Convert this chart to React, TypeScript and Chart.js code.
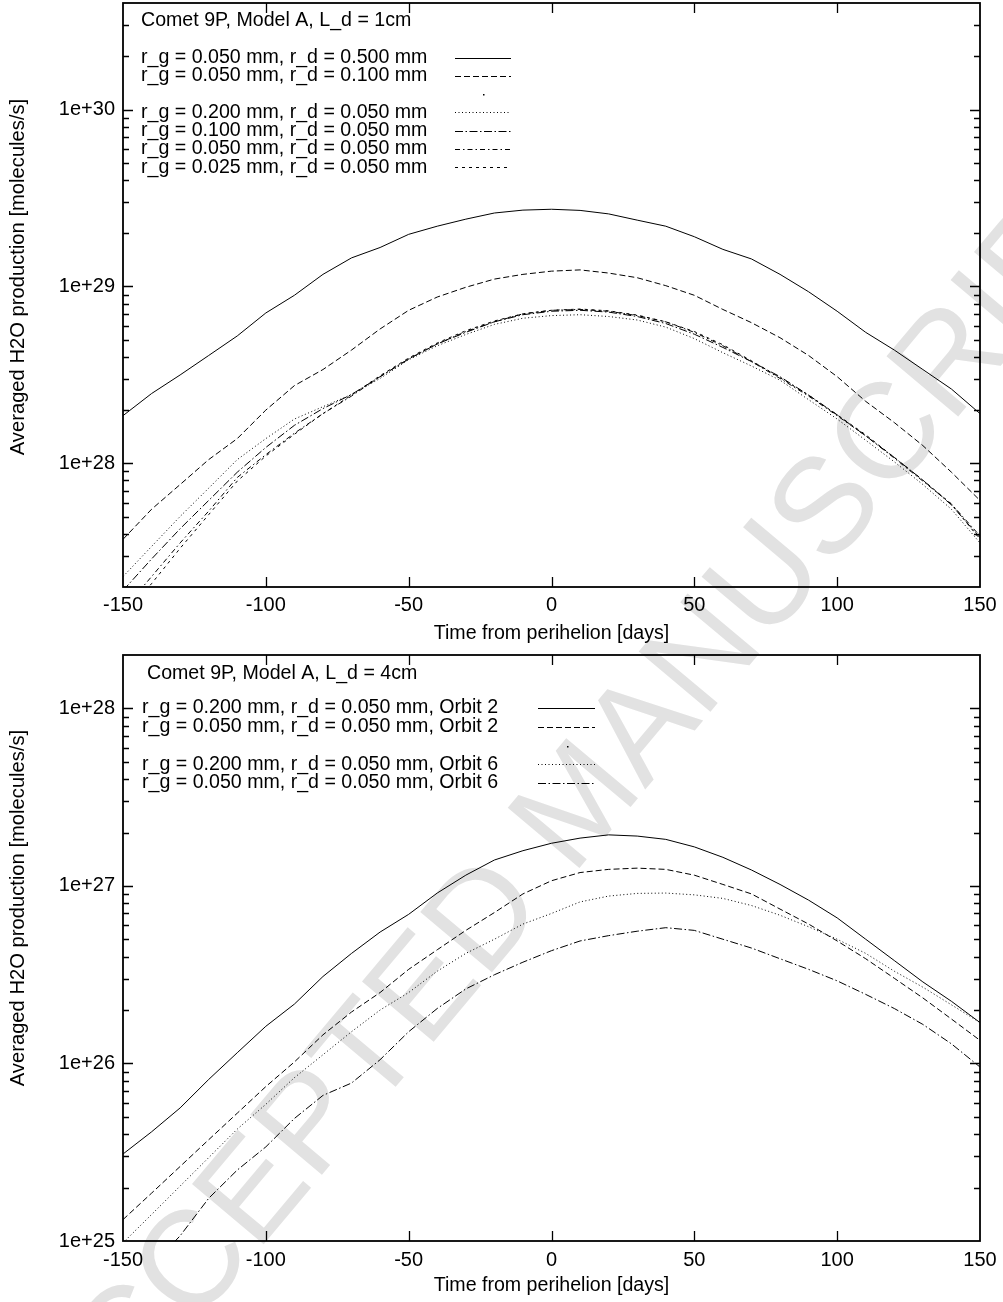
import React, { useEffect, useRef } from 'react';
import { Chart, registerables } from 'chart.js';

Chart.register(...registerables);

const FONT = '"Liberation Sans", Arial, Helvetica, sans-serif';

// ---------- shared axis data ----------
const DAYS = [-150, -140, -130, -120, -110, -100, -90, -80, -70, -60, -50, -40, -30, -20, -10, 0,
  10, 20, 30, 40, 50, 60, 70, 80, 90, 100, 110, 120, 130, 140, 150];
const X_TICKS = [-150, -100, -50, 0, 50, 100, 150];
const X_TICK_LABELS = ['-150', '-100', '-50', '0', '50', '100', '150'];
const X_TITLE = 'Time from perihelion [days]';
const Y_TITLE = 'Averaged H2O production [molecules/s]';
const MINOR_STEPS = [2, 3, 4, 5, 6, 7, 8, 9];

// ---------- top panel ----------
const TOP_TITLE = 'Comet 9P, Model A, L_d = 1cm';
const TOP_Y_MIN = 2e27;
const TOP_Y_MAX = 4e30;
const TOP_Y_MAJOR = [1e28, 1e29, 1e30];
const TOP_Y_LABELS = ['1e+28', '1e+29', '1e+30'];
const TOP_LABELS = [
  'r_g = 0.050 mm, r_d = 0.500 mm',
  'r_g = 0.050 mm, r_d = 0.100 mm',
  '',
  'r_g = 0.200 mm, r_d = 0.050 mm',
  'r_g = 0.100 mm, r_d = 0.050 mm',
  'r_g = 0.050 mm, r_d = 0.050 mm',
  'r_g = 0.025 mm, r_d = 0.050 mm',
];
const TOP_RG050_RD500 = [1.86e28, 2.48e28, 3.16e28, 4.07e28, 5.25e28, 7.08e28, 8.91e28, 1.17e29, 1.45e29, 1.66e29,
  1.97e29, 2.19e29, 2.40e29, 2.60e29, 2.70e29, 2.73e29, 2.69e29, 2.57e29, 2.37e29, 2.19e29, 1.91e29, 1.62e29,
  1.43e29, 1.17e29, 9.33e28, 7.24e28, 5.50e28, 4.37e28, 3.39e28, 2.63e28, 1.91e28];
const TOP_RG050_RD100 = [3.72e27, 5.50e27, 7.59e27, 1.05e28, 1.38e28, 2.00e28, 2.75e28, 3.39e28, 4.37e28, 5.75e28,
  7.33e28, 8.71e28, 9.89e28, 1.10e29, 1.17e29, 1.22e29, 1.24e29, 1.19e29, 1.12e29, 1.01e29, 8.91e28, 7.41e28,
  6.24e28, 5.13e28, 4.07e28, 3.09e28, 2.24e28, 1.70e28, 1.26e28, 8.91e27, 6.17e27];
const TOP_RG200_RD050 = [2.29e27, 3.39e27, 5.01e27, 7.24e27, 1.05e28, 1.38e28, 1.78e28, 2.09e28, 2.45e28, 3.02e28,
  3.85e28, 4.62e28, 5.35e28, 6.10e28, 6.61e28, 6.84e28, 6.92e28, 6.76e28, 6.46e28, 5.89e28, 5.07e28, 4.22e28,
  3.55e28, 2.95e28, 2.29e28, 1.78e28, 1.35e28, 1.02e28, 7.59e27, 5.50e27, 3.55e27];
const TOP_RG100_RD050 = [1.91e27, 2.88e27, 4.27e27, 6.17e27, 8.91e27, 1.23e28, 1.64e28, 2.04e28, 2.45e28, 3.09e28,
  3.89e28, 4.73e28, 5.50e28, 6.31e28, 6.92e28, 7.24e28, 7.33e28, 7.16e28, 6.76e28, 6.17e28, 5.37e28, 4.52e28,
  3.76e28, 3.09e28, 2.43e28, 1.88e28, 1.43e28, 1.08e28, 8.04e27, 5.82e27, 3.80e27];
const TOP_RG050_RD050 = [1.48e27, 2.29e27, 3.55e27, 5.37e27, 8.32e27, 1.12e28, 1.48e28, 1.91e28, 2.40e28, 3.09e28,
  3.89e28, 4.73e28, 5.56e28, 6.31e28, 7.00e28, 7.33e28, 7.41e28, 7.24e28, 6.84e28, 6.31e28, 5.50e28, 4.62e28,
  3.76e28, 3.02e28, 2.40e28, 1.86e28, 1.43e28, 1.07e28, 7.94e27, 5.89e27, 3.89e27];
const TOP_RG025_RD050 = [1.35e27, 2.09e27, 3.31e27, 5.13e27, 7.94e27, 1.10e28, 1.46e28, 1.91e28, 2.43e28, 3.13e28,
  3.94e28, 4.79e28, 5.62e28, 6.38e28, 7.00e28, 7.33e28, 7.45e28, 7.28e28, 6.89e28, 6.31e28, 5.56e28, 4.68e28,
  3.80e28, 3.05e28, 2.43e28, 1.88e28, 1.45e28, 1.08e28, 8.04e27, 5.89e27, 3.72e27];

// ---------- bottom panel ----------
const BOT_TITLE = 'Comet 9P, Model A, L_d = 4cm';
const BOT_Y_MIN = 1e25;
const BOT_Y_MAX = 2e28;
const BOT_Y_MAJOR = [1e25, 1e26, 1e27, 1e28];
const BOT_Y_LABELS = ['1e+25', '1e+26', '1e+27', '1e+28'];
const BOT_LABELS = [
  'r_g = 0.200 mm, r_d = 0.050 mm, Orbit 2',
  'r_g = 0.050 mm, r_d = 0.050 mm, Orbit 2',
  '',
  'r_g = 0.200 mm, r_d = 0.050 mm, Orbit 6',
  'r_g = 0.050 mm, r_d = 0.050 mm, Orbit 6',
];
const BOT_RG200_O2 = [3.09e25, 4.12e25, 5.62e25, 8.13e25, 1.15e26, 1.62e26, 2.16e26, 3.09e26, 4.17e26, 5.50e26,
  6.92e26, 9.12e26, 1.15e27, 1.40e27, 1.58e27, 1.74e27, 1.86e27, 1.94e27, 1.91e27, 1.83e27, 1.66e27, 1.45e27,
  1.23e27, 1.02e27, 8.32e26, 6.61e26, 5.01e26, 3.80e26, 2.88e26, 2.24e26, 1.70e26];
const BOT_RG050_O2 = [1.32e25, 1.86e25, 2.63e25, 3.72e25, 5.25e25, 7.41e25, 1.02e26, 1.45e26, 1.95e26, 2.51e26,
  3.39e26, 4.37e26, 5.62e26, 7.08e26, 9.02e26, 1.07e27, 1.19e27, 1.24e27, 1.26e27, 1.24e27, 1.15e27, 1.02e27,
  9.02e26, 7.41e26, 6.10e26, 4.90e26, 3.89e26, 3.02e26, 2.34e26, 1.78e26, 1.35e26];
const BOT_RG200_O6 = [9.77e24, 1.41e25, 2.04e25, 2.95e25, 4.27e25, 5.89e25, 8.32e25, 1.12e26, 1.51e26, 2.00e26,
  2.51e26, 3.31e26, 4.17e26, 5.01e26, 6.10e26, 7.00e26, 8.13e26, 8.77e26, 9.08e26, 9.12e26, 8.91e26, 8.51e26,
  7.76e26, 6.84e26, 5.89e26, 5.01e26, 4.17e26, 3.31e26, 2.69e26, 2.14e26, 1.70e26];
const BOT_RG050_O6 = [5.01e24, 7.24e24, 1.07e25, 1.74e25, 2.51e25, 3.39e25, 4.90e25, 6.61e25, 7.76e25, 1.05e26,
  1.51e26, 2.04e26, 2.63e26, 3.16e26, 3.72e26, 4.32e26, 4.90e26, 5.25e26, 5.56e26, 5.82e26, 5.62e26, 5.01e26,
  4.47e26, 3.89e26, 3.39e26, 2.92e26, 2.45e26, 2.04e26, 1.66e26, 1.29e26, 9.55e25];

const WATERMARK = 'ACCEPTED MANUSCRIPT';

// ---------- line styles (gnuplot-like) ----------
const DASH_SOLID: number[] = [];
const DASH_DASHED = [6, 3];
const DASH_DOTTED = [1, 2.5];
const DASH_DASHDOT = [8, 2.5, 1.5, 2.5];
const DASH_DASHDOT2 = [5, 3, 1.5, 3];
const DASH_SHORT = [3, 4];

function lineDs(label: string, values: number[], dash: number[]) {
  return {
    label,
    data: values.map((v, i) => ({ x: DAYS[i], y: v })),
    borderColor: '#000',
    backgroundColor: '#000',
    borderWidth: 1,
    borderDash: dash,
    pointRadius: 0,
    tension: 0,
    fill: false,
  };
}
function dotDs() {
  return { label: '', data: [], legendDot: true, borderColor: '#000', pointRadius: 0, borderWidth: 1 };
}

function minorTicks(min: number, max: number) {
  const out: number[] = [];
  const d0 = Math.floor(Math.log10(min));
  const d1 = Math.ceil(Math.log10(max));
  for (let d = d0; d <= d1; d++) {
    for (const m of MINOR_STEPS) {
      const v = m * Math.pow(10, d);
      if (v >= min * 0.999 && v <= max * 1.001) out.push(v);
    }
  }
  return out;
}

const gnuplotPlugin = {
  id: 'gnuplot',
  afterDraw(chart: any, _args: any, opts: any) {
    const { ctx, chartArea } = chart;
    const { left, right, top, bottom } = chartArea;
    const xs = chart.scales.x;
    const ys = chart.scales.y;
    ctx.save();
    ctx.strokeStyle = '#000';
    ctx.setLineDash([]);
    ctx.lineWidth = 1.3;
    ctx.beginPath();
    for (const v of opts.xTicks) {
      const px = Math.round(xs.getPixelForValue(v)) + 0.5;
      if (px <= left + 2 || px >= right - 2) continue;
      ctx.moveTo(px, bottom); ctx.lineTo(px, bottom - 10);
      ctx.moveTo(px, top); ctx.lineTo(px, top + 10);
    }
    const yt: { v: number; major: boolean }[] = [
      ...opts.yMajor.map((v: number) => ({ v, major: true })),
      ...opts.yMinor.map((v: number) => ({ v, major: false })),
    ];
    for (const t of yt) {
      const py = Math.round(ys.getPixelForValue(t.v)) + 0.5;
      if (py <= top + 2 || py >= bottom - 2) continue;
      const len = t.major ? 10 : 6;
      ctx.moveTo(left, py); ctx.lineTo(left + len, py);
      ctx.moveTo(right, py); ctx.lineTo(right - len, py);
    }
    ctx.stroke();
    ctx.lineWidth = 1.8;
    ctx.strokeRect(left, top, right - left, bottom - top);

    // y axis title
    ctx.fillStyle = '#000';
    ctx.save();
    ctx.font = `20.2px ${FONT}`;
    ctx.translate(opts.yTitle.x, opts.yTitle.y);
    ctx.rotate(-Math.PI / 2);
    ctx.textAlign = 'center';
    ctx.textBaseline = 'middle';
    ctx.fillText(opts.yTitle.text, 0, 0);
    ctx.restore();

    // key
    const L = opts.key;
    ctx.font = `19.6px ${FONT}`;
    ctx.textAlign = 'left';
    ctx.textBaseline = 'middle';
    ctx.fillText(L.title, L.titleX, L.titleY);
    chart.data.datasets.forEach((ds: any, i: number) => {
      const y = L.rowY0 + i * L.rowStep;
      if (ds.legendDot) {
        ctx.fillRect(Math.round((L.x1 + L.x2) / 2), Math.round(y), 1.5, 1.5);
        return;
      }
      if (ds.label) ctx.fillText(ds.label, L.textX, y);
      ctx.beginPath();
      ctx.lineWidth = 1;
      ctx.setLineDash(ds.borderDash || []);
      ctx.moveTo(L.x1, Math.round(y) + 0.5);
      ctx.lineTo(L.x2, Math.round(y) + 0.5);
      ctx.stroke();
    });
    ctx.restore();
  },
};

type PanelSpec = {
  height: number;
  plotTop: number;
  xAxisHeight: number;
  xTickPad: number;
  xTitlePad: number;
  yMin: number;
  yMax: number;
  yMajor: number[];
  yLabels: string[];
  datasets: any[];
  yTitleY: number;
  key: any;
};

function Panel({ spec, top }: { spec: PanelSpec; top: number }) {
  const ref = useRef<HTMLCanvasElement | null>(null);
  useEffect(() => {
    if (!ref.current) return;
    const yMinor = minorTicks(spec.yMin, spec.yMax);
    const allY = [...spec.yMajor, ...yMinor].sort((a, b) => a - b);
    const chart = new Chart(ref.current, {
      type: 'line',
      data: { datasets: spec.datasets },
      options: {
        animation: false,
        responsive: false,
        devicePixelRatio: 1,
        layout: { padding: { left: 0, right: 23, top: spec.plotTop, bottom: 0 } },
        plugins: {
          legend: { display: false },
          tooltip: { enabled: false },
          gnuplot: {
            xTicks: X_TICKS,
            yMajor: spec.yMajor,
            yMinor,
            yTitle: { text: Y_TITLE, x: 18, y: spec.yTitleY },
            key: spec.key,
          },
        } as any,
        scales: {
          x: {
            type: 'linear',
            min: -150,
            max: 150,
            afterBuildTicks: (s: any) => { s.ticks = X_TICKS.map((v) => ({ value: v })); },
            afterFit: (s: any) => {
              s.height = spec.xAxisHeight;
              s.paddingLeft = 0; s.paddingRight = 0; s.paddingTop = 0; s.paddingBottom = 0;
            },
            grid: { display: false, drawTicks: false },
            border: { display: false },
            ticks: {
              color: '#000',
              font: { size: 20, family: FONT },
              padding: spec.xTickPad,
              maxRotation: 0,
              autoSkip: false,
              callback: (_v: any, i: number) => X_TICK_LABELS[i],
            },
            title: {
              display: true,
              text: X_TITLE,
              color: '#000',
              font: { size: 19.6, family: FONT },
              padding: { top: 0, bottom: spec.xTitlePad },
            },
          },
          y: {
            type: 'logarithmic',
            min: spec.yMin,
            max: spec.yMax,
            afterBuildTicks: (s: any) => { s.ticks = allY.map((v) => ({ value: v })); },
            afterFit: (s: any) => {
              s.width = 123;
              s.paddingLeft = 0; s.paddingRight = 0; s.paddingTop = 0; s.paddingBottom = 0;
            },
            grid: { display: false, drawTicks: false },
            border: { display: false },
            ticks: {
              color: '#000',
              font: { size: 20, family: FONT },
              padding: 8,
              autoSkip: false,
              callback: (v: any) => {
                const idx = spec.yMajor.findIndex((m) => Math.abs(m - v) / m < 1e-6);
                return idx >= 0 ? spec.yLabels[idx] : null;
              },
            },
          },
        },
      } as any,
      plugins: [gnuplotPlugin],
    });
    return () => chart.destroy();
  }, []);
  return (
    <canvas
      ref={ref}
      width={1003}
      height={spec.height}
      style={{ position: 'absolute', left: 0, top, width: 1003, height: spec.height, display: 'block' }}
    />
  );
}

const TOP_SPEC: PanelSpec = {
  height: 650,
  plotTop: 3,
  xAxisHeight: 63,
  xTickPad: 6,
  xTitlePad: 5,
  yMin: TOP_Y_MIN,
  yMax: TOP_Y_MAX,
  yMajor: TOP_Y_MAJOR,
  yLabels: TOP_Y_LABELS,
  yTitleY: 277,
  datasets: [
    lineDs(TOP_LABELS[0], TOP_RG050_RD500, DASH_SOLID),
    lineDs(TOP_LABELS[1], TOP_RG050_RD100, DASH_DASHED),
    dotDs(),
    lineDs(TOP_LABELS[3], TOP_RG200_RD050, DASH_DOTTED),
    lineDs(TOP_LABELS[4], TOP_RG100_RD050, DASH_DASHDOT),
    lineDs(TOP_LABELS[5], TOP_RG050_RD050, DASH_DASHDOT2),
    lineDs(TOP_LABELS[6], TOP_RG025_RD050, DASH_SHORT),
  ],
  key: { title: TOP_TITLE, titleX: 141, titleY: 21, textX: 141, rowY0: 57.5, rowStep: 18.3, x1: 455, x2: 511 },
};

const BOT_SPEC: PanelSpec = {
  height: 652,
  plotTop: 5,
  xAxisHeight: 61,
  xTickPad: 7,
  xTitlePad: 5,
  yMin: BOT_Y_MIN,
  yMax: BOT_Y_MAX,
  yMajor: BOT_Y_MAJOR,
  yLabels: BOT_Y_LABELS,
  yTitleY: 258,
  datasets: [
    lineDs(BOT_LABELS[0], BOT_RG200_O2, DASH_SOLID),
    lineDs(BOT_LABELS[1], BOT_RG050_O2, DASH_DASHED),
    dotDs(),
    lineDs(BOT_LABELS[3], BOT_RG200_O6, DASH_DOTTED),
    lineDs(BOT_LABELS[4], BOT_RG050_O6, DASH_DASHDOT),
  ],
  key: { title: BOT_TITLE, titleX: 147, titleY: 24, textX: 142, rowY0: 58, rowStep: 18.75, x1: 538, x2: 595 },
};

export default function App() {
  return (
    <div style={{ position: 'absolute', left: 0, top: 0, width: 1003, height: 1302, background: '#fff', overflow: 'hidden' }}>
      <div
        style={{
          position: 'absolute',
          left: 575,
          top: 800,
          transform: 'translate(-50%, -50%) rotate(-50deg)',
          fontFamily: FONT,
          fontSize: 136,
          lineHeight: 1,
          color: '#e2e2e2',
          whiteSpace: 'nowrap',
        }}
      >
        {WATERMARK}
      </div>
      <Panel spec={TOP_SPEC} top={0} />
      <Panel spec={BOT_SPEC} top={650} />
    </div>
  );
}
